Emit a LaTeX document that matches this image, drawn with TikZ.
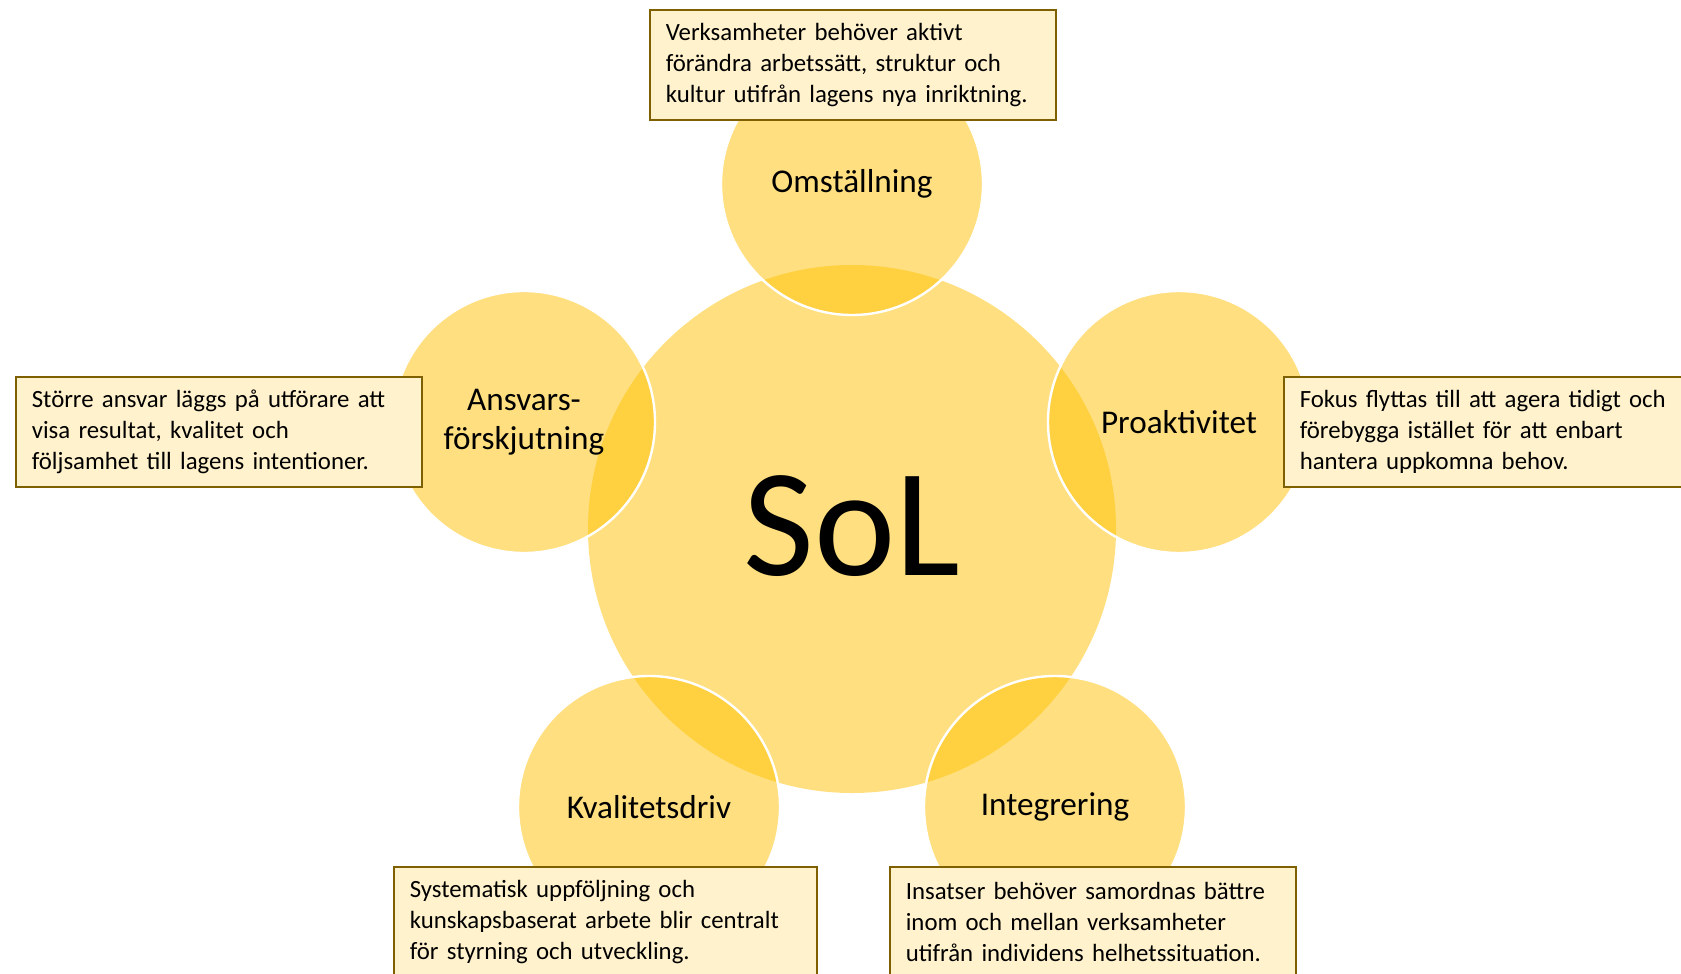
\documentclass[tikz,border=0pt]{standalone}
\usepackage{fontspec}
\setmainfont{Carlito}
\definecolor{sunfill}{HTML}{FFC000}
\definecolor{notefill}{HTML}{FFF2CC}
\definecolor{notedraw}{HTML}{7F6000}

\begin{document}
\begin{tikzpicture}[x=0.5pt,y=-0.5pt,
    core/.style={circle,fill=sunfill,fill opacity=0.5,text opacity=1,
      minimum size=264pt,inner sep=0pt},
    petal/.style={circle,fill=sunfill,fill opacity=0.5,text opacity=1,
      draw=white,line width=1.2pt,minimum size=131pt,inner sep=0pt,
      align=center,font=\fontsize{16.6}{19.5}\selectfont},
    note/.style={draw=notedraw,fill=notefill,line width=0.8pt,
      anchor=north west,minimum height=55pt,inner xsep=8pt,
      align=left,font=\fontsize{12.4}{15.5}\selectfont}]
      \clip (0,0) rectangle (1681,974) ;
      % centre
      \node[core] (sol) at (852,529) {} ;
      \node[font=\fontsize{77}{80}\selectfont] (soltext) at (852,526) {SoL} ;
      % petals
      \node[petal] (oms) at (852,184) {Omställning} ;
      \node[petal] (pro) at (1179,422) {Proaktivitet} ;
      \node[petal] (ans) at (524,422) {Ansvars-\\förskjutning} ;
      \node[petal] (kva) at (649,807) {Kvalitetsdriv} ;
      \node[petal] (int) at (1055,807) {Integrering} ;
      % notes
      \node[note,text width=187pt] (omsnote) at (649,9)
        {Verksamheter behöver aktivt\\förändra arbetssätt, struktur och\\kultur utifrån lagens nya inriktning.} ;
      \node[note,text width=187pt] (ansnote) at (15,376)
        {Större ansvar läggs på utförare att\\visa resultat, kvalitet och\\följsamhet till lagens intentioner.} ;
      \node[note,text width=187pt] (pronote) at (1283,376)
        {Fokus flyttas till att agera tidigt och\\förebygga istället för att enbart\\hantera uppkomna behov.} ;
      \node[note,text width=195.5pt] (kvanote) at (393,866)
        {Systematisk uppföljning och\\kunskapsbaserat arbete blir centralt\\för styrning och utveckling.} ;
      \node[note,text width=187pt] (intnote) at (889,866)
        {Insatser behöver samordnas bättre\\inom och mellan verksamheter\\utifrån individens helhetssituation.} ;
    \end{tikzpicture}
\end{document}
